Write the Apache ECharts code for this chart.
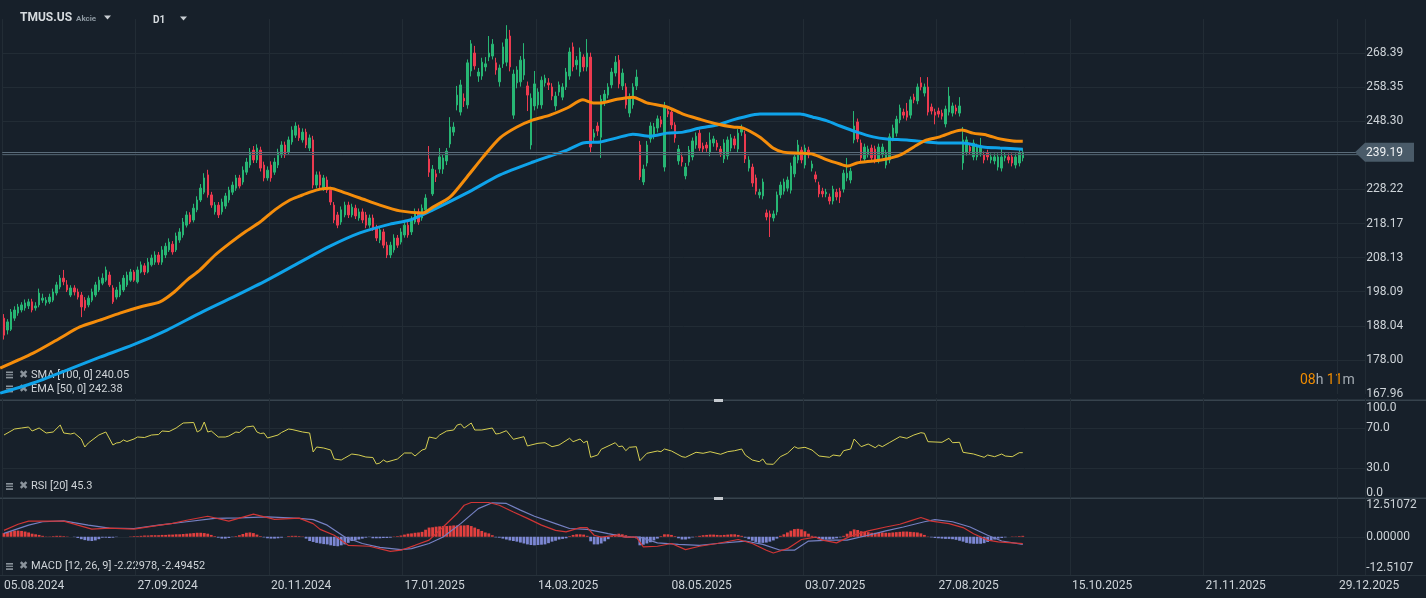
<!DOCTYPE html>
<html><head><meta charset="utf-8">
<script src="https://cdn.jsdelivr.net/npm/echarts@6/dist/echarts.min.js"></script>
<style>html,body{margin:0;padding:0;background:#17202a;overflow:hidden}#c{width:1426px;height:598px}</style>
</head><body><div id="c"></div>
<script>
// ---------- DATA ----------
const symbol = 'TMUS.US';
const dateTicks = ['05.08.2024','27.09.2024','20.11.2024','17.01.2025','14.03.2025','08.05.2025','03.07.2025','27.08.2025','15.10.2025','21.11.2025','29.12.2025'];
const barsPerTick = 38;
const totalSlots = 388;
const priceTickLabels = ['167.96','178.00','188.04','198.09','208.13','218.17','228.22','238.26','248.30','258.35','268.39'];
const lastPrice = 239.19;
const smaLast = 240.05, emaLast = 242.38, rsiLast = 45.3, macdLast = -2.22978, signalLast = -2.49452;
// [open, close, low, high]
const ohlc = [
[190.3,185.3,184.0,191.5],[186.8,189.2,185.5,190.0],[187.0,192.1,186.5,193.0],[190.3,192.7,189.5,193.8],[191.8,193.6,191.0,194.5],
[192.7,194.2,192.0,195.0],[193.3,194.8,192.5,195.8],[193.9,195.1,193.0,196.0],[195.1,192.7,192.0,196.0],[193.3,193.9,192.5,195.0],
[194.2,197.7,193.5,199.0],[195.6,196.2,194.8,197.5],[194.8,195.6,194.0,196.5],[195.1,196.5,194.5,197.5],[195.6,198.0,195.0,199.0],
[197.7,200.1,197.0,201.0],[199.5,202.1,198.8,203.0],[202.1,201.0,200.0,204.5],[200.1,198.6,198.0,201.5],[197.1,199.2,196.5,200.0],
[199.2,198.0,197.0,200.0],[198.0,196.5,195.8,199.0],[197.1,193.6,190.6,198.0],[195.6,193.3,192.5,196.5],[194.2,196.2,193.5,197.0],
[195.6,198.0,195.0,199.0],[197.1,200.1,196.5,201.0],[198.6,201.5,198.0,202.5],[200.6,202.1,200.0,203.5],[201.5,204.5,201.0,205.5],
[203.0,200.1,199.5,204.0],[199.2,195.1,194.5,200.0],[196.5,198.6,195.8,199.5],[197.1,200.1,196.5,201.0],[198.6,202.1,198.0,203.0],
[200.1,203.0,199.5,204.0],[201.5,203.9,201.0,204.8],[203.9,201.5,201.0,204.5],[201.0,204.5,200.5,205.5],[203.9,206.0,203.5,207.0],
[205.7,203.9,203.0,206.5],[203.9,206.8,203.5,208.0],[206.0,208.0,205.5,209.0],[206.8,208.9,206.0,210.0],[208.9,206.8,206.0,209.8],
[206.8,210.4,206.0,211.5],[208.9,211.5,208.0,212.5],[210.4,212.7,209.8,213.8],[212.1,209.8,209.0,213.0],[210.4,214.5,209.8,215.5],
[213.3,215.7,212.5,216.8],[214.8,218.6,214.0,219.8],[217.7,220.7,217.0,221.8],[220.7,218.6,218.0,221.5],[219.2,222.7,218.5,224.0],
[222.2,225.1,221.5,226.2],[225.1,228.6,224.5,229.8],[227.4,231.6,226.8,233.0],[232.5,226.6,225.8,234.0],[226.6,223.6,222.8,227.5],
[221.6,223.6,220.8,224.5],[223.6,220.7,219.8,224.5],[221.6,224.5,220.8,225.5],[223.3,226.3,222.5,227.2],[225.1,228.0,224.3,229.0],
[227.4,229.5,226.6,230.5],[228.6,231.6,227.8,232.5],[231.6,229.2,228.5,232.5],[230.4,233.9,229.6,235.0],[233.3,236.3,232.5,237.5],
[235.4,239.2,234.6,240.4],[239.8,236.9,236.0,241.0],[236.9,240.4,236.0,241.5],[239.8,234.5,233.5,240.8],[235.4,231.6,230.6,236.4],
[231.6,233.9,230.8,235.0],[235.4,231.6,230.5,236.5],[233.3,236.3,232.5,237.5],[235.4,239.2,234.5,240.2],[238.4,241.3,237.5,242.4],
[241.3,238.4,237.5,242.3],[239.2,242.8,238.4,243.8],[242.2,245.7,241.4,246.8],[244.2,246.9,243.4,248.0],[246.3,243.4,242.5,247.3],
[242.8,245.1,242.0,246.2],[245.1,241.3,240.4,246.1],[240.4,243.4,239.5,244.4],[242.8,229.5,228.5,244.0],[229.5,232.5,228.6,233.5],
[232.5,229.5,228.5,233.5],[228.6,231.6,227.8,232.5],[231.0,228.0,227.2,232.0],[228.0,224.5,223.6,229.0],[223.6,219.2,218.3,224.5],
[220.7,217.7,216.8,221.6],[218.6,222.2,217.8,223.2],[220.7,223.6,220.0,224.6],[223.6,220.7,219.8,224.6],[220.7,223.0,220.0,224.0],
[222.7,220.4,219.5,223.7],[219.8,221.6,219.0,222.6],[221.6,219.2,218.3,222.6],[220.7,217.7,216.8,221.6],[217.7,219.8,216.9,220.8],
[219.8,216.8,216.0,220.8],[216.8,213.9,213.0,217.8],[213.3,216.3,212.4,217.3],[215.7,211.8,210.9,216.6],[211.8,208.9,208.0,212.8],
[208.9,211.8,208.0,212.8],[210.4,213.9,209.6,215.0],[213.9,211.8,211.0,214.8],[212.7,215.7,212.0,216.8],[214.8,217.7,214.0,218.8],
[217.7,214.8,214.0,218.6],[215.7,219.2,214.8,220.3],[218.6,221.6,218.0,222.6],[221.6,218.6,217.8,222.6],[219.8,222.7,219.0,223.8],
[222.2,225.7,221.4,226.8],[237.2,233.3,231.9,241.0],[226.9,234.2,226.3,235.4],[232.8,231.9,230.4,234.0],[234.2,237.8,233.0,240.4],
[234.2,237.5,232.8,238.6],[236.6,239.5,235.4,240.4],[241.6,246.6,240.5,249.5],[245.1,246.6,244.0,248.0],[253.1,256.0,251.5,258.7],
[251.0,259.0,250.0,260.5],[255.1,254.3,252.5,256.5],[253.1,265.5,252.0,266.5],[263.1,271.1,261.5,272.2],[268.4,264.6,263.5,270.5],
[261.6,262.8,259.9,264.0],[261.6,265.7,260.5,267.0],[264.3,265.2,263.0,267.2],[267.2,268.4,266.0,273.4],[267.5,271.0,266.5,272.5],
[265.5,263.4,262.0,267.0],[259.9,264.0,258.5,265.0],[265.2,270.2,264.0,271.5],[265.7,272.5,264.5,276.6],[273.4,264.3,263.0,275.2],
[250.1,262.2,249.0,263.5],[259.6,263.4,258.0,264.5],[259.9,266.3,258.5,267.5],[261.9,266.6,260.5,271.3],[258.7,256.0,251.3,260.0],
[241.3,255.1,240.0,256.5],[252.8,259.3,251.5,263.1],[253.1,256.9,252.0,258.0],[253.1,260.4,252.0,261.5],[259.6,261.0,258.5,262.0],
[259.6,259.0,257.5,261.0],[258.4,255.7,254.5,259.5],[252.8,255.7,251.5,257.0],[256.9,259.0,255.8,260.0],[255.4,258.4,254.5,259.5],
[258.4,262.8,257.5,264.0],[261.6,268.7,260.5,270.0],[270.2,264.3,263.0,271.5],[264.9,266.3,263.5,267.5],[262.8,268.7,261.5,270.0],
[267.2,264.3,263.0,268.0],[264.3,268.4,263.0,272.5],[267.2,240.7,239.2,268.5],[243.6,244.8,242.5,246.0],[246.9,245.4,244.0,248.0],
[243.6,254.8,237.5,256.0],[254.0,256.3,252.8,257.5],[256.0,258.4,255.0,259.5],[259.0,262.8,258.0,264.0],[262.5,265.7,261.5,267.5],
[266.3,259.3,258.0,267.8],[258.7,262.5,257.5,263.8],[258.4,253.1,252.0,259.5],[250.7,255.4,249.5,256.5],[253.1,258.4,252.0,259.5],
[258.7,261.3,257.5,263.5],[241.3,231.9,231.0,242.5],[230.4,234.2,229.5,235.5],[236.0,241.3,235.0,242.5],[243.1,246.9,242.0,248.0],
[244.2,246.6,243.0,247.8],[246.3,249.0,245.0,250.0],[248.7,247.5,246.5,249.8],[234.8,252.8,233.5,254.0],[251.3,250.4,249.5,252.5],
[251.0,247.2,246.0,252.0],[247.2,243.4,242.0,248.0],[236.6,240.1,235.5,241.3],[237.8,236.3,235.0,238.8],[232.2,234.8,231.2,236.0],
[236.3,239.8,235.2,241.0],[237.8,242.5,236.8,243.5],[241.3,243.9,240.2,245.0],[244.8,240.4,239.5,245.8],[241.0,240.1,239.0,242.0],
[241.3,240.4,239.3,242.2],[239.2,242.8,238.0,245.0],[241.9,243.1,240.8,244.0],[241.9,240.7,239.7,242.8],[240.1,238.9,237.8,241.0],
[237.2,241.9,236.0,243.0],[238.1,242.8,237.0,243.8],[240.4,243.4,239.4,244.5],[243.1,241.3,240.2,244.0],[240.1,244.8,239.0,246.0],
[245.1,246.3,244.0,247.3],[244.5,237.2,236.0,245.5],[234.5,236.9,233.5,238.0],[234.8,230.1,229.0,235.8],[231.6,227.7,226.7,232.6],
[226.6,227.4,225.6,228.4],[226.3,230.4,225.3,231.4],[221.3,220.1,219.1,222.3],[221.0,220.1,214.2,222.0],[219.8,221.0,218.8,222.0],
[221.6,226.6,220.6,227.6],[226.6,229.5,225.6,230.5],[227.7,230.4,226.7,231.4],[228.6,231.0,227.6,232.0],[228.0,235.1,227.0,236.1],
[232.8,237.8,231.8,238.8],[236.9,241.3,235.9,242.8],[239.8,236.9,235.9,240.8],[235.4,240.4,234.4,241.4],[239.8,238.4,237.4,240.8],
[234.5,235.7,233.5,236.7],[232.5,231.3,230.3,233.5],[229.5,226.9,225.9,230.5],[227.7,226.9,225.9,228.7],[226.9,227.4,225.9,228.4],
[226.0,224.8,223.8,227.0],[224.8,228.3,223.8,229.3],[227.4,226.0,225.0,228.4],[227.7,226.0,224.2,228.7],[228.3,233.0,227.3,234.0],
[231.6,233.0,230.6,237.5],[231.0,233.6,230.0,234.6],[242.8,246.9,241.8,251.3],[248.1,243.1,242.1,249.1],[241.9,237.5,236.5,242.9],
[237.2,240.7,236.2,241.7],[238.6,240.1,237.6,241.1],[240.4,237.5,236.5,241.4],[240.1,236.9,235.9,241.1],[236.9,240.7,235.9,241.7],
[238.6,240.7,237.6,241.7],[235.4,238.9,234.4,239.9],[236.9,243.7,235.9,244.7],[243.4,246.3,242.4,247.3],[244.8,248.9,243.8,249.9],
[248.7,252.2,247.7,253.2],[251.0,250.1,249.1,252.0],[251.3,249.5,248.5,253.7],[250.1,254.6,249.1,255.6],[255.4,254.6,253.6,256.4],
[254.3,258.4,253.3,259.4],[259.6,258.4,257.4,261.3],[256.6,258.4,255.6,259.4],[258.4,251.0,250.0,261.3],[252.5,251.3,250.3,253.5],
[251.0,250.1,247.4,252.0],[251.3,250.4,249.4,252.3],[250.7,249.8,248.8,251.7],[247.5,251.9,246.5,252.9],[251.0,255.7,250.0,258.4],
[250.7,252.8,249.7,253.8],[252.2,251.3,250.3,253.2],[250.7,252.8,249.7,255.4],[236.0,242.8,234.0,246.6],[239.2,242.8,238.2,243.8],
[240.7,239.5,238.5,241.7],[237.8,241.9,236.8,242.9],[237.8,240.7,236.8,241.7],[238.9,241.0,237.9,243.4],[238.4,236.9,235.9,239.4],
[238.9,237.8,236.8,239.9],[236.9,237.8,235.9,238.8],[236.6,237.8,235.6,238.8],[234.8,237.8,233.8,238.8],[234.5,237.8,233.5,240.5],
[237.5,238.1,236.5,239.1],[237.8,236.9,235.9,238.8],[237.8,236.0,235.0,238.8],[235.4,237.8,234.4,238.8],[236.0,238.9,235.0,239.9],
[237.5,239.19,236.5,240.3]
];
// moving averages, read at bar positions: [bar, value]
const sma100 = [[-1.1,168.2],[8.3,171.2],[17.9,175.0],[27.3,178.8],[36.7,182.4],[46.4,186.8],[55.8,191.8],[65.2,196.5],[74.9,201.5],[84.3,206.8],[92.8,211.5],[101.3,215.4],[109.9,218.0],[115.6,219.2],[122.1,222.2],[131.8,227.2],[141.2,232.5],[150.6,236.3],[160.3,239.8],[164.8,241.9],[169.7,242.2],[174.5,243.4],[179.0,244.5],[183.9,243.9],[188.7,244.8],[193.3,245.1],[198.1,246.3],[203.0,247.2],[207.5,248.7],[210.4,249.5],[215.2,250.4],[221.8,250.4],[226.6,250.4],[230.3,249.5],[234.3,248.4],[238.0,246.9],[242.8,245.1],[247.4,243.7],[251.3,243.1],[257.0,242.8],[262.7,242.2],[266.4,241.9],[273.0,241.9],[278.7,240.7],[283.5,240.4],[290,240.05]];
const ema50 = [[-1.1,175.6],[8.3,180.0],[15.9,184.4],[21.6,187.7],[27.3,189.7],[33.0,191.8],[38.7,193.6],[44.4,195.1],[48.1,197.7],[52.1,201.5],[55.8,204.5],[60.1,208.9],[64.3,212.4],[68.6,215.7],[72.9,218.6],[77.1,222.2],[81.4,225.1],[84.3,226.3],[87.1,227.4],[90.0,228.3],[92.8,228.6],[97.1,227.2],[101.3,225.7],[107.0,223.6],[112.7,221.9],[119.3,221.3],[122.1,223.0],[127.0,226.0],[131.8,231.9],[136.4,237.8],[141.2,243.4],[146.0,246.6],[150.6,248.7],[155.4,250.1],[160.3,252.2],[164.8,254.6],[167.7,253.7],[169.7,253.7],[174.5,254.8],[179.0,255.4],[183.0,253.7],[188.7,252.5],[193.3,250.4],[198.1,248.9],[203.0,247.5],[207.5,246.6],[210.4,246.3],[215.2,243.6],[218.9,240.4],[221.8,239.2],[226.6,238.9],[230.3,238.6],[234.3,236.9],[238.0,235.7],[240.2,235.1],[242.8,236.0],[247.4,236.6],[251.3,237.2],[255.0,238.3],[259.9,241.3],[262.7,242.8],[266.4,243.7],[270.1,245.1],[272.7,245.7],[275.8,244.8],[279.8,244.2],[283.5,243.1],[287.2,242.5],[290,242.38]];
const rsi20 = [[0,63],[2,67],[3,69],[5,70],[7,71],[8,67],[10,70],[12,65],[14,66],[16,73],[17,65],[19,64],[20,65],[22,59],[23,51],[24,55],[27,63],[29,66],[31,53],[32,55],[33,55.5],[34,58],[35,56.5],[37,59],[38,61],[40,60.5],[42,63],[44,63.5],[45,67],[47,66.5],[49,70],[51,75],[54,75.5],[55,66],[56,68],[57,76],[58,66],[59,67],[61,61],[63,61],[64,62],[66,66],[67,65.5],[69,71],[71,72],[72,66],[73,64.5],[74,65],[75,60],[78,63],[79,65.5],[81,69],[82,68.5],[85,66],[87,65],[88,46],[89,51],[91,50],[93,48],[94,39],[96,38],[97,40],[99,44],[101,43],[103,41],[105,40.5],[106,34],[107,35],[108,38],[109,36],[111,38],[112,39],[114,45],[116,45],[117,42],[119,48],[120,49],[121,61],[123,59.5],[124,63],[126,67],[128,68],[129,73],[130,74],[131,70],[133,75],[134,68],[136,68],[139,70],[140,64],[141,64.5],[143,67.3],[145,58.7],[148,61.3],[149,52],[150,53],[152,54.7],[154,55.3],[156,51.3],[158,53],[161,59.7],[162,56.3],[164,59],[165,55.3],[166,57],[167,40.7],[169,43],[170,48.7],[174,55.3],[175,51.3],[176,52],[177,47.3],[178,50.7],[180,51.3],[181,37.3],[183,44.7],[186,47],[187,46.3],[188,49],[190,47],[193,41.3],[194,40.7],[197,45.7],[199,44.7],[201,46.3],[204,43.7],[206,46.3],[208,47.3],[210,49],[211,43],[213,38],[215,36.3],[216,39],[217,34],[219,33.7],[221,41.3],[223,44.7],[225,51.3],[226,49.7],[228,50.7],[230,48],[232,42],[235,40.7],[236,43],[238,42],[239,47.3],[241,49],[242,59],[244,51.3],[246,54],[248,50.3],[249,53],[250,51.3],[252,55.3],[255,61.3],[257,59.7],[259,63],[261,65.3],[262,64.7],[263,56.3],[267,55.7],[269,59.7],[270,55.3],[272,55.7],[273,45.7],[276,44],[279,40.7],[280,43],[282,41.3],[284,44],[285,42],[287,41.3],[289,45.3],[290,45.3]];
const macdLine = [[0,2.1],[4,4.1],[7,5.1],[11,5.1],[17,5.1],[21,3.8],[25,2.5],[30,2.8],[37,2.5],[42,3.4],[48,4.4],[52,5.4],[58,6.7],[64,5.1],[71,7.4],[77,5.7],[84,6.1],[88,4.3],[90,2.4],[94,0.5],[98,-2.8],[104,-3.1],[110,-4.8],[113,-4.4],[117,-2.8],[121,-1.1],[125,3.2],[129,7.6],[131,10.3],[133,11.2],[138,11.2],[141,10.3],[145,8.1],[149,6.0],[153,3.8],[157,2.1],[160,1.6],[164,3.0],[166,3.0],[168,0.5],[170,-0.1],[174,0.5],[177,-0.1],[180,-0.1],[182,-3.3],[186,-3.1],[190,-2.2],[194,-4.2],[198,-3.1],[203,-2.2],[209,-0.9],[213,-2.2],[217,-4.4],[219,-5.3],[223,-3.9],[227,-0.9],[231,-0.1],[233,-1.1],[237,-2.0],[241,0.2],[246,1.9],[251,3.2],[255,4.1],[258,5.2],[261,6.3],[264,5.1],[269,4.3],[273,3.0],[276,1.0],[280,-1.1],[283,-1.7],[290,-2.23]];
const signalLine = [[0,1.1],[7,3.8],[11,4.9],[17,5.2],[24,3.8],[30,2.8],[37,2.7],[44,3.8],[52,4.9],[60,6.0],[67,6.2],[75,6.5],[84,6.0],[88,5.6],[92,3.8],[97,-0.1],[102,-2.2],[107,-3.5],[113,-4.2],[116,-3.9],[121,-2.2],[125,-0.1],[130,4.3],[135,9.2],[139,11.1],[143,10.9],[147,8.7],[151,6.7],[157,4.3],[161,2.7],[166,2.4],[172,1.0],[177,-0.1],[181,-0.1],[186,-2.0],[192,-2.5],[198,-2.8],[203,-2.2],[211,-1.4],[216,-2.5],[221,-4.4],[225,-4.4],[229,-1.4],[235,-1.1],[240,-1.1],[246,0.5],[251,1.9],[256,3.2],[262,4.9],[265,5.6],[270,4.9],[275,3.2],[280,0.5],[284,-1.4],[290,-2.49]];
const macdHist = [
1.2,1.5,1.8,2.0,2.0,1.9,1.7,1.4,1.0,0.8, 0.6,0.3,0.1,0.1,0.2,0.3,0.3,0.2,0.1,0.0,
-0.1,-0.4,-0.8,-1.1,-1.3,-1.4,-1.2,-0.8,-0.3,-0.3, -0.4,-0.3,-0.1,0.0,0.0,0.0,0.1,0.2,0.2,0.3,
0.4,0.4,0.5,0.5,0.5,0.6,0.6,0.7,0.7,0.8, 0.8,0.9,1.0,1.1,1.2,1.3,1.3,1.2,1.0,0.6,
0.2,-0.3,-0.6,-0.6,-0.4,-0.1,0.2,0.5,0.9,1.3, 1.4,1.2,0.7,0.2,-0.2,-0.5,-0.6,-0.6,-0.5,-0.3,
0.0,0.2,0.3,0.3,0.2,0.1,-0.6,-1.4,-1.7,-2.0, -2.2,-2.4,-2.5,-2.8,-3.0,-3.1,-2.8,-2.5,-2.0,-1.4,
-1.2,-0.9,-0.6,-0.3,-0.1,-0.5,-0.5,-0.5,-0.4,-0.4, -0.3,0.1,0.2,0.4,0.7,1.0,1.1,1.3,1.4,1.6,
2.3,3.0,3.1,3.3,3.4,3.5,3.5,3.6,3.7,3.7, 3.7,3.7,3.8,3.5,3.0,2.5,1.9,1.4,1.1,0.5,
-0.2,-0.3,-0.6,-0.9,-1.2,-1.4,-1.6,-1.9,-2.2,-2.5, -2.7,-2.8,-2.7,-2.6,-2.5,-2.1,-1.6,-1.3,-0.9,-0.7,
-0.5,0.2,0.6,0.8,0.8,0.7,0.3,-1.5,-2.5,-2.5, -2.2,-1.5,-0.8,0.3,0.8,1.0,0.8,0.5,0.2,0.1,
-0.5,-2.8,-2.6,-2.2,-1.8,-1.2,-0.6,0.2,0.8,0.8, 0.6,0.2,-0.5,-0.9,-0.9,-0.6,-0.2,0.1,0.3,0.5,
0.6,0.7,0.7,0.6,0.5,0.6,0.7,0.8,0.8,0.6, 0.3,-0.3,-0.8,-1.3,-1.7,-2.0,-2.0,-1.9,-1.6,-1.2,
-0.6,0.3,0.8,1.4,2.0,2.5,2.6,2.4,1.8,1.0, 0.3,-0.4,-0.8,-0.9,-0.9,-0.8,-0.7,-0.5,-0.2,0.3,
1.0,1.8,2.4,2.2,1.8,1.6,1.5,1.3,1.3,1.4, 1.4,1.3,1.3,1.4,1.5,1.6,1.7,1.7,1.6,1.5,
1.4,1.1,0.6,0.1,-0.2,-0.4,-0.5,-0.6,-0.7,-0.7, -0.8,-1.0,-1.3,-1.6,-2.0,-2.2,-2.3,-2.3,-2.3,-2.1,
-1.7,-1.3,-0.9,-0.6,-0.4,-0.2,0.0,0.1,0.1,0.2, 0.3
];
const rsiLevels = [30, 70];
const rsiTickLabels = {0:'0.0', 30:'30.0', 70:'70.0', 100:'100.0'};
const macdRange = 12.51072;

// ---------- STYLE ----------
const BG = '#17202a', GRID = '#222c35', TXT = '#cdd3d8', SEP = '#37434d';
const UP = '#27b674', DOWN = '#ec3a4f';
const FONT = 'Roboto';
const TAG = '#4a5b69';
const slotW = 3.513;
const gridLeft = 4 - slotW / 2;
const gridRight = 1426 - (gridLeft + slotW * totalSlots);
const priceMin = 167.96, priceStep = 10.0433, priceMax = 278.4, pxPerUnit = 3.395;
const priceBottomY = 394;
const priceTopY = priceBottomY - (priceMax - priceMin) * pxPerUnit;

const cats = Array.from({length: totalSlots}, (_, i) => String(i));
const isTick = i => i % barsPerTick === 0;
const vSplit = {show: true, interval: (i) => isTick(i), lineStyle: {color: GRID, width: 1}};

function catAxis(gridIndex, withLabels) {
  return {
    type: 'category', gridIndex, data: cats, boundaryGap: true,
    axisLine: {show: false}, axisTick: {show: false},
    axisLabel: withLabels ? {
      show: true, interval: (i) => isTick(i), align: 'left', margin: 5,
      color: TXT, fontFamily: FONT, fontSize: 12,
      formatter: (v) => dateTicks[Number(v) / barsPerTick] || ''
    } : {show: false},
    splitLine: vSplit
  };
}
function valAxisX(gridIndex) {
  return {type: 'value', gridIndex, min: -0.5, max: totalSlots - 0.5, show: false};
}
function legend(y, text) {
  return [
    {type: 'rect', shape: {x: 6, y: y - 3.5, width: 7, height: 1.6}, style: {fill: '#8a939b'}},
    {type: 'rect', shape: {x: 6, y: y - 0.8, width: 7, height: 1.2}, style: {fill: '#8a939b'}},
    {type: 'rect', shape: {x: 6, y: y + 1.8, width: 7, height: 1.6}, style: {fill: '#8a939b'}},
    {type: 'text', x: 19, y: y, style: {text: '✖', fill: '#8a939b', font: 'bold 11px DejaVu Sans', textVerticalAlign: 'middle'}},
    {type: 'text', x: 31, y: y, style: {text, fill: '#cfd4d8', font: '11px Roboto', textVerticalAlign: 'middle'}}
  ];
}

const chart = echarts.init(document.getElementById('c'), null, {renderer: 'canvas'});
const option = {
  backgroundColor: BG,
  animation: false,
  grid: [
    {left: gridLeft, right: gridRight, top: priceTopY, bottom: 598 - priceBottomY},
    {left: gridLeft, right: gridRight, top: 398, bottom: 100},
    {left: gridLeft, right: gridRight, top: 498.5, bottom: 23}
  ],
  xAxis: [
    catAxis(0, false), valAxisX(0),
    catAxis(1, false), valAxisX(1),
    catAxis(2, true), valAxisX(2)
  ],
  yAxis: [
    {
      type: 'value', gridIndex: 0, position: 'right', min: priceMin, max: priceMax, interval: priceStep,
      axisLine: {show: false}, axisTick: {show: false},
      splitLine: {show: true, showMinLine: false, showMaxLine: false, lineStyle: {color: GRID}},
      axisLabel: {
        color: TXT, fontFamily: FONT, fontSize: 12, margin: 1, showMaxLabel: true, showMinLabel: true,
        formatter: (v) => {
          const k = Math.round((v - priceMin) / priceStep);
          if (Math.abs(priceMin + k * priceStep - v) > 0.01) return '';
          const s = priceTickLabels[k] || '';
          if (s && Math.abs(parseFloat(s) - lastPrice) < 2) return '';
          return s;
        }
      }
    },
    {
      type: 'value', gridIndex: 1, position: 'right', min: 0, max: 100, interval: 10,
      axisLine: {show: false}, axisTick: {show: false},
      splitLine: {show: true, lineStyle: {color: Array.from({length: 11}, (_, k) => rsiLevels.includes(k * 10) ? GRID : 'rgba(0,0,0,0)')}},
      axisLabel: {
        color: TXT, fontFamily: FONT, fontSize: 12, margin: 1, showMinLabel: true, showMaxLabel: true,
        formatter: (v) => {
          const s = rsiTickLabels[Math.round(v)];
          if (!s) return '';
          if (v >= 100) return '{t|' + s + '}';
          if (v <= 0) return '{b|' + s + '}';
          return s;
        },
        rich: {t: {padding: [19, 0, 0, 0], color: TXT, fontFamily: FONT, fontSize: 12}, b: {padding: [0, 0, 11, 0], color: TXT, fontFamily: FONT, fontSize: 12}}
      }
    },
    {
      type: 'value', gridIndex: 2, position: 'right', min: -macdRange, max: macdRange, interval: macdRange,
      axisLine: {show: false}, axisTick: {show: false},
      splitLine: {show: true, showMinLine: false, showMaxLine: false, lineStyle: {color: GRID}},
      axisLabel: {
        color: TXT, fontFamily: FONT, fontSize: 12, margin: 1, showMinLabel: true, showMaxLabel: true,
        formatter: (v) => {
          if (v > 0.001) return '{t|' + v.toFixed(5) + '}';
          if (v < -0.001) return '{b|' + v.toFixed(5).slice(0, 8) + '}';
          return '0.00000';
        },
        rich: {t: {padding: [13, 0, 0, 0], color: TXT, fontFamily: FONT, fontSize: 12}, b: {padding: [0, 0, 14, 0], color: TXT, fontFamily: FONT, fontSize: 12}}
      }
    }
  ],
  series: [
    {
      type: 'candlestick', xAxisIndex: 0, yAxisIndex: 0, data: ohlc, barWidth: 2,
      itemStyle: {color: UP, color0: DOWN, borderColor: UP, borderColor0: DOWN, borderWidth: 1},
      markLine: {
        silent: true, symbol: ['none', 'none'], animation: false, label: {show: false},
        data: [
          {yAxis: lastPrice, lineStyle: {color: '#5a6b79', width: 1, type: 'solid'}},
          {yAxis: lastPrice - 0.6, lineStyle: {color: '#4b5b68', width: 1, type: 'solid'}}
        ]
      },
      z: 3
    },
    {type: 'line', xAxisIndex: 1, yAxisIndex: 0, data: sma100, showSymbol: false, smooth: 0.25,
     lineStyle: {color: '#0fa3ea', width: 3}, z: 4},
    {type: 'line', xAxisIndex: 1, yAxisIndex: 0, data: ema50, showSymbol: false, smooth: 0.25,
     lineStyle: {color: '#f58d0b', width: 3}, z: 5},
    {type: 'line', xAxisIndex: 3, yAxisIndex: 1, data: rsi20, showSymbol: false,
     lineStyle: {color: '#d6cf52', width: 1}},
    {type: 'bar', xAxisIndex: 4, yAxisIndex: 2, data: macdHist, barWidth: 2.8,
     itemStyle: {color: (p) => p.value >= 0 ? '#e2403f' : '#7c87d3'}},
    {type: 'line', xAxisIndex: 5, yAxisIndex: 2, data: signalLine, showSymbol: false,
     lineStyle: {color: '#7580c2', width: 1.2}},
    {type: 'line', xAxisIndex: 5, yAxisIndex: 2, data: macdLine, showSymbol: false,
     lineStyle: {color: '#cf3535', width: 1.2}}
  ],
  graphic: [
    {type: 'text', x: 20, y: 18, style: {text: symbol, fill: '#d6dbdf', font: 'bold 12px Roboto', textVerticalAlign: 'middle'}},
    {type: 'text', x: 76, y: 19, style: {text: 'Akcie', fill: '#8d98a1', font: 'bold 8px Roboto', textVerticalAlign: 'middle'}},
    {type: 'polygon', shape: {points: [[104, 15.5], [111, 15.5], [107.5, 19.5]]}, style: {fill: '#c9ced3'}},
    {type: 'text', x: 153, y: 20, style: {text: 'D1', fill: '#d6dbdf', font: 'bold 10px Roboto', textVerticalAlign: 'middle'}},
    {type: 'polygon', shape: {points: [[180, 16.5], [187, 16.5], [183.5, 20.5]]}, style: {fill: '#c9ced3'}},
    ...legend(375, 'SMA [100, 0] ' + smaLast.toFixed(2)),
    ...legend(389, 'EMA [50, 0] ' + emaLast.toFixed(2)),
    ...legend(486.5, 'RSI [20] ' + rsiLast.toFixed(1)),
    ...legend(566.5, 'MACD [12, 26, 9] ' + macdLast.toFixed(5) + ', ' + signalLast.toFixed(5)),
    {type: 'text', x: 1300, y: 380, style: {text: '{o|08}{g|h} {o|11}{g|m}', textVerticalAlign: 'middle',
      rich: {o: {fill: '#f08c00', font: '14px Roboto'}, g: {fill: '#a3abb2', font: '14px Roboto'}}}},
    {type: 'rect', shape: {x: 0, y: 399.5, width: 1426, height: 1.5}, style: {fill: SEP}},
    {type: 'rect', shape: {x: 0, y: 497.5, width: 1426, height: 1.5}, style: {fill: SEP}},
    {type: 'rect', shape: {x: 0, y: 575, width: 1426, height: 1}, style: {fill: '#26313a'}},
    {type: 'rect', shape: {x: 714, y: 399, width: 9, height: 3}, style: {fill: '#c5cacf'}},
    {type: 'rect', shape: {x: 714, y: 497, width: 9, height: 3}, style: {fill: '#c5cacf'}}
  ]
};
chart.setOption(option);

// current-price tag positioned through the price axis
const tagY = chart.convertToPixel({yAxisIndex: 0}, lastPrice);
const tagX = 1355;
chart.setOption({graphic: option.graphic.concat([
  {type: 'polygon', shape: {points: [[tagX, tagY], [tagX + 10, tagY - 9.5], [1414, tagY - 9.5], [1414, tagY + 9.5], [tagX + 10, tagY + 9.5]]}, style: {fill: TAG}, z: 10},
  {type: 'text', x: 1366, y: tagY + 0.5, style: {text: lastPrice.toFixed(2), fill: '#eef1f3', font: '12px Roboto', textVerticalAlign: 'middle'}, z: 11}
])});
</script>
</body></html>
